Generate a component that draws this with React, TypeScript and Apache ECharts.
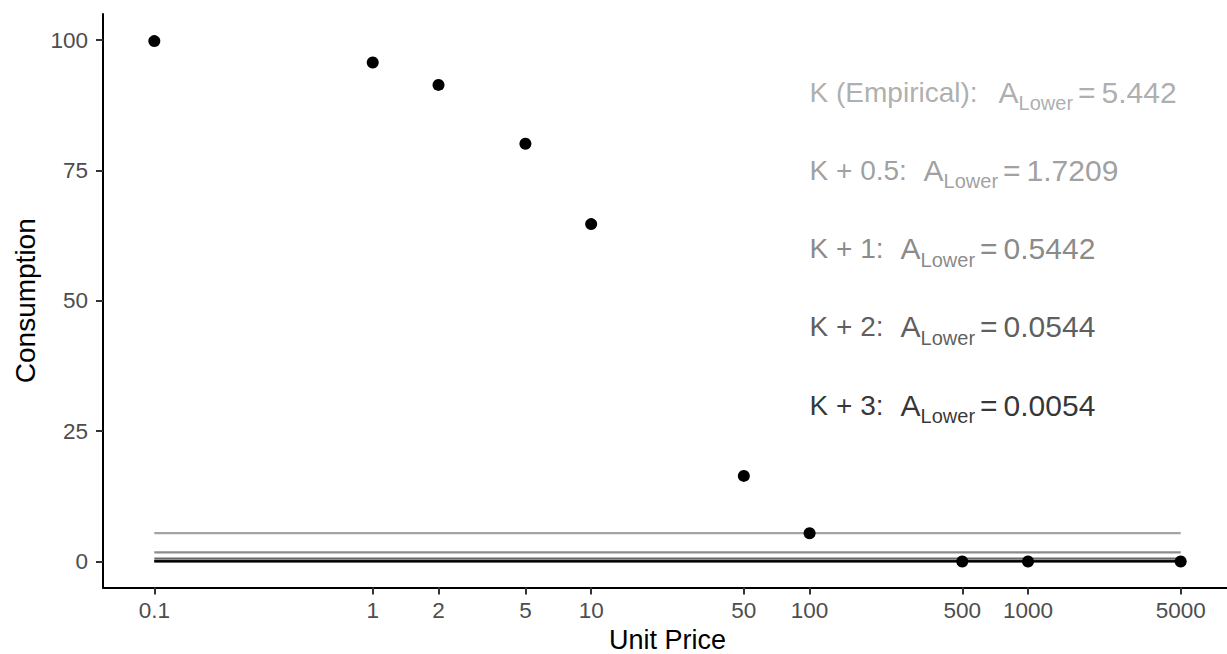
import React, { useEffect, useRef } from "react";
import * as echarts from "echarts";

// ---- data ----
const PRICES = [0.1, 1, 2, 5, 10, 50, 100, 500, 1000, 5000];
const CONSUMPTION = [99.8, 95.7, 91.4, 80.1, 64.7, 16.4, 5.4, 0, 0, 0];

const X_TICKS = [0.1, 1, 2, 5, 10, 50, 100, 500, 1000, 5000];
const X_TICK_LABELS = ["0.1", "1", "2", "5", "10", "50", "100", "500", "1000", "5000"];
const Y_TICKS = [0, 25, 50, 75, 100];

const K_LABELS = ["K (Empirical):", "K + 0.5:", "K + 1:", "K + 2:", "K + 3:"];
const A_LOWER = [5.442, 1.7209, 0.5442, 0.0544, 0.0054];
const A_LOWER_TEXT = ["5.442", "1.7209", "0.5442", "0.0544", "0.0054"];
const LABEL_X = 100;
const LABEL_Y = [90, 75, 60, 45, 30];
const LINE_X_RANGE = [0.1, 5000];

// ---- styling ----
const COLORS = ["#a3a3a3", "#8c8c8c", "#6b6b6b", "#363636", "#000000"];
const TEXT_COLORS = ["#999999", "#878787", "#6b6b6b", "#333333", "#000000"];
const LEAD_WIDTHS = [189, 114, 91, 91, 91];
const FONT = "'Liberation Sans', Arial, Helvetica, sans-serif";

const lx = (v: number) => Math.log10(v);

export default function App() {
  const ref = useRef<HTMLDivElement>(null);

  useEffect(() => {
    const chart = echarts.init(ref.current!, null, { renderer: "svg" });

    const xMinL = lx(Math.min(...PRICES));
    const xMaxL = lx(Math.max(...PRICES));
    const xr = xMaxL - xMinL;

    const hlines = A_LOWER.map((v, i) => ({
      type: "line",
      data: LINE_X_RANGE.map((x) => [lx(x), v]),
      symbol: "none",
      silent: true,
      z: 2 + i * 0.01,
      lineStyle: { color: COLORS[i], width: 2.3 },
    }));

    const labels = K_LABELS.map((k, i) => {
      const base = { color: TEXT_COLORS[i], fontFamily: FONT };
      return {
        type: "scatter",
        data: [[lx(LABEL_X), LABEL_Y[i]]],
        symbolSize: 0,
        silent: true,
        z: 5,
        label: {
          show: true,
          position: "right",
          distance: 0,
          fontFamily: FONT,
          color: TEXT_COLORS[i],
          formatter: `{lead|${k}}{a|A}{sub|Lower}{eq|=}{num|${A_LOWER_TEXT[i]}}`,
          rich: {
            lead: { ...base, width: LEAD_WIDTHS[i], fontSize: 28, lineHeight: 42, verticalAlign: "middle" },
            a: { ...base, fontSize: 30, lineHeight: 42, verticalAlign: "middle" },
            sub: { ...base, fontSize: 20, lineHeight: 23, verticalAlign: "bottom" },
            eq: { ...base, fontSize: 30, lineHeight: 42, verticalAlign: "middle", padding: [0, 6, 0, 5] },
            num: { ...base, fontSize: 30, lineHeight: 42, verticalAlign: "middle" },
          },
        },
      };
    });

    const option: any = {
      animation: false,
      backgroundColor: "#ffffff",
      grid: {
        left: 103,
        top: 14,
        width: 1129,
        height: 573.5,
        containLabel: false,
        outerBoundsMode: "none",
      },
      xAxis: {
        type: "value",
        min: xMinL - 0.05 * xr,
        max: xMaxL + 0.05 * xr,
        name: "Unit Price",
        nameLocation: "middle",
        nameGap: 34,
        nameTextStyle: { fontFamily: FONT, fontSize: 27, lineHeight: 27, color: "#000" },
        axisLine: { show: true, onZero: false, lineStyle: { color: "#000", width: 2 } },
        axisTick: { show: true, length: 7, lineStyle: { color: "#333", width: 2 }, customValues: X_TICKS.map(lx) },
        axisLabel: {
          show: true,
          margin: 11,
          fontFamily: FONT,
          fontSize: 22.5,
          color: "#4d4d4d",
          customValues: X_TICKS.map(lx),
          formatter: (v: number) => {
            const idx = X_TICKS.findIndex((t) => Math.abs(lx(t) - v) < 1e-6);
            return idx >= 0 ? X_TICK_LABELS[idx] : "";
          },
        },
        splitLine: { show: false },
      },
      yAxis: {
        type: "value",
        min: -5,
        max: 105,
        name: "Consumption",
        nameLocation: "middle",
        nameGap: 62,
        nameTextStyle: { fontFamily: FONT, fontSize: 28, color: "#000" },
        axisLine: { show: true, onZero: false, lineStyle: { color: "#000", width: 2 } },
        axisTick: { show: true, length: 7, lineStyle: { color: "#333", width: 2 }, customValues: Y_TICKS },
        axisLabel: {
          show: true,
          margin: 15,
          fontFamily: FONT,
          fontSize: 22.5,
          color: "#4d4d4d",
          customValues: Y_TICKS,
        },
        splitLine: { show: false },
      },
      series: [
        ...hlines,
        {
          type: "scatter",
          data: PRICES.map((p, i) => [lx(p), CONSUMPTION[i]]),
          symbol: "circle",
          symbolSize: 12,
          z: 4,
          itemStyle: { color: "#000", opacity: 1 },
          silent: true,
        },
        ...labels,
      ],
    };

    chart.setOption(option);
    return () => chart.dispose();
  }, []);

  return (
    <div
      ref={ref}
      style={{ position: "fixed", left: 0, top: 0, width: 1227, height: 654 }}
    />
  );
}
